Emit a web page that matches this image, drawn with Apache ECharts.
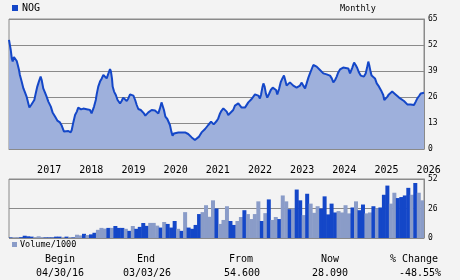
<!DOCTYPE html>
<html>
<head>
<meta charset="utf-8">
<script src="https://cdn.jsdelivr.net/npm/echarts@6/dist/echarts.min.js"></script>
<style>
html,body{margin:0;padding:0;background:#f3f3f3;}
#c{width:460px;height:280px;}
</style>
</head>
<body>
<div id="c"></div>
<script>
// Price series: x = months since 1 Jan 2016, y = price
const priceMonths = [4.0,4.5,4.8,5.05,5.4,5.9,6.2,6.5,6.85,7.1,7.6,8.1,8.55,9.0,9.5,9.8,10.3,10.8,11.2,11.6,12.05,12.5,13.0,13.3,13.75,14.25,14.7,15.2,15.9,16.4,17.1,17.75,18.5,19.0,19.65,20.2,20.9,21.55,21.85,22.3,22.8,23.3,23.7,24.5,25.15,25.6,26.4,27.05,27.5,27.8,28.2,28.7,28.95,29.4,29.9,30.4,30.85,31.3,31.8,32.3,32.75,33.0,33.3,33.5,33.9,34.4,34.9,35.6,36.05,36.5,37,37.5,37.95,38.45,38.9,39.4,39.9,40.35,40.8,41.5,41.95,42.4,42.8,43.2,43.65,44.1,44.6,45.55,46,46.5,46.95,47.4,47.7,48.1,48.5,49.05,49.5,49.8,50.2,50.55,50.95,51.25,52.2,53.15,54.1,55.0,56.0,56.9,57.4,58.1,58.8,59.8,60.7,61.5,62.25,63.1,63.55,64.05,64.5,65,65.5,65.95,66.4,66.9,67.8,68.3,69.25,70.2,71.15,72.1,73.05,74.0,74.5,74.95,75.4,75.7,76.1,76.4,76.75,77.1,77.5,78.0,78.5,79.05,79.5,80.0,80.35,80.85,81.3,81.8,82.25,82.6,83.0,83.5,83.95,84.45,84.9,85.4,85.85,86.3,86.8,87.3,87.75,88.25,88.7,89.2,89.65,90.15,90.6,91.1,91.55,92.0,92.5,92.95,93.45,94.4,95.35,95.85,96.3,96.8,97.25,97.7,98.2,98.7,99.1,99.6,100.55,101.05,101.3,101.7,102.2,102.65,103.1,103.6,104.1,104.55,105.0,105.5,105.9,106.25,106.55,106.95,107.2,107.7,108.15,108.65,109.1,109.6,110.05,110.5,110.8,111.2,111.7,112.1,112.6,113.05,113.55,114.0,114.5,115.0,115.45,116.4,116.9,117.35,118.3,118.8,119.25,119.75,120.2,120.7,121.2,121.65,122.1];
const priceValues = [54.6,49.5,45.3,43.7,46,46.2,44,42,39.5,37,33.7,30.3,28.3,26.2,22.8,20.8,22,22.5,24.5,27.8,31.2,33.7,36.2,34.5,30.3,28.2,26.2,23.7,21.2,18.3,16.2,14.2,13.3,11.7,8.7,9.2,9,8.3,9.5,13.3,17,18.7,20.7,19.8,20.2,20.8,19.8,19.5,17.8,17.3,21.2,24.5,27.3,31.2,33.7,35.3,37,36.2,35.3,37.8,40,38.8,35.3,31.2,28.7,27,24.5,22.8,24,25.7,25,24,25.3,27.3,27,26.7,24.5,22,20,19.5,18.7,17.8,16.7,17.3,18.3,19.2,19.5,19.2,18.7,17.8,20.3,23.3,22.5,19.5,16.2,15,14,12,8.7,6.7,7.8,8.3,8.3,8.3,8.3,7.5,5.8,4.5,4,6.2,8.3,10,12,13.7,12.3,14,15.3,17.8,19.2,20.3,21.2,18.7,17,16.7,19.5,21.7,22.8,20.7,20.7,23.3,25,27.3,28.3,26.7,25.3,27,30.7,32.8,31.2,27.8,25.7,27.5,29.5,30.7,31.7,29.5,27.3,30,33.3,35.3,36.7,34.5,31.7,31.8,33.3,34,31.7,31.2,30.7,30.7,31.7,33.2,31.7,30.3,32.8,35.7,37.8,40,42,42.3,41.2,40.3,39.5,38.8,37.8,37.3,36.7,35.3,33.3,34.5,36.2,38.3,39.8,40.3,40.7,40.7,40.3,37.8,38.5,40.7,43.2,42,40.5,38.2,36.7,35.7,36.2,37.8,40.7,43.7,41.7,38.2,36.7,36.2,35.3,32.8,31.7,31.2,28.7,27,24.5,25.3,26.2,27.3,28.3,28.7,28.3,27.3,26.7,25.7,25.3,24,23.3,22.3,22.3,21.7,22,23.7,25.3,26.5,27.8,28.2,28.09];

// Monthly volume (thousands), May 2016 .. Mar 2026
const volumeValues = [0.5,0.5,0.7,0.7,2,1.5,1.2,0.7,1.5,0.7,0.5,0.5,0.5,1.2,1.2,0.5,1.2,0.7,0.5,2.9,2.3,3.7,2.6,3.2,4.6,7.2,8.9,8.3,8.9,8.9,10.6,8.9,8.9,8.1,6.3,10.6,8.1,9.8,13.2,10.7,13.3,13.3,10.9,9.2,14.1,12.4,9.2,15,8.1,6.3,22.8,9.2,8.1,11.5,21.1,22.8,28.9,18.7,33.2,26,12.4,15.9,28,15,11.5,15,18.5,24.5,21.1,16.7,21.1,32.3,15,21.9,34,15.9,18.5,16.7,37.5,32.3,25.4,26,42.7,33.2,20.2,39,30.3,22.2,28,26,36.7,20.8,30.3,22.5,23.7,22.5,28.9,21.7,26.9,32.3,24.5,29.5,21.7,22.5,28,26,26.9,38.1,46.2,30.3,39.9,35.2,36.1,37.5,44.2,38.1,48.5,39.9,33.2];
// 1 = dark bar, 0 = light bar
const volumeShade = [1,0,0,1,1,1,1,0,0,0,1,1,1,1,1,0,1,0,1,0,0,1,0,1,1,0,0,0,1,0,1,1,1,0,1,0,1,1,1,1,0,0,0,1,0,1,1,1,0,1,0,1,1,1,1,0,0,0,0,1,0,0,0,1,1,0,0,1,0,0,0,0,1,0,1,0,0,1,0,0,1,0,1,1,0,1,0,0,0,1,1,1,1,1,0,0,0,0,1,0,1,1,0,0,1,0,1,1,1,0,0,1,1,1,1,0,1,0,0];

const yearLabels = ['2017','2018','2019','2020','2021','2022','2023','2024','2025','2026'];
const summaryHeads = ['Begin','End','From','Now','% Change'];
const summaryVals = ['04/30/16','03/03/26','54.600','28.090','-48.55%'];

const DARK = '#1447c8', LIGHT = '#8a9cc8', GRID = '#8a8a8a';
const MONO = "'DejaVu Sans Mono', monospace";

const chart = echarts.init(document.getElementById('c'), null, {renderer: 'canvas'});

const headX = [60, 146, 241, 330, 414];
const valX = [60, 147, 242, 330, 420];
const graphics = [
  {type:'text', left: 340, top: 4, style:{text:'Monthly', font:"8.5px " + MONO, fill:'#000'}}
];
summaryHeads.forEach((t, i) => {
  graphics.push({type:'text', x: headX[i], y: 259, style:{text:t, font:"10px " + MONO, fill:'#000', align:'center', verticalAlign:'middle'}});
  graphics.push({type:'text', x: valX[i], y: 273, style:{text:summaryVals[i], font:"10px " + MONO, fill:'#000', align:'center', verticalAlign:'middle'}});
});

chart.setOption({
  animation: false,
  backgroundColor: '#f3f3f3',
  grid: [
    {left: 9, right: 36, top: 19, height: 130, show: true, borderColor: GRID, borderWidth: 1},
    {left: 9, right: 36, top: 179, height: 59, show: true, borderColor: GRID, borderWidth: 1}
  ],
  legend: [
    {data: ['NOG'], left: 12, top: 3, padding: 0, icon: 'rect', itemWidth: 6, itemHeight: 6, itemGap: 5,
     textStyle: {fontFamily: MONO, fontSize: 10, color: '#000', padding: [0,0,0,-1]}},
    {data: ['Volume/1000'], left: 12, top: 240, padding: 0, icon: 'rect', itemWidth: 5, itemHeight: 5,
     textStyle: {fontFamily: MONO, fontSize: 8.5, color: '#000', padding: [0,0,0,-2]}}
  ],
  xAxis: [
    {type: 'value', gridIndex: 0, min: 4, max: 122.1,
     axisLine: {show: true, lineStyle: {color: GRID, width: 1}}, axisTick: {show: false}, splitLine: {show: false},
     axisLabel: {customValues: yearLabels.map(y => (Number(y) - 2016) * 12), formatter: v => String(Math.round(2016 + v / 12)),
       align: 'left', margin: 16, fontFamily: MONO, fontSize: 10, color: '#000', showMinLabel: true, showMaxLabel: true}},
    {type: 'category', gridIndex: 1, data: volumeValues.map((v, i) => i), boundaryGap: true, show: false}
  ],
  yAxis: [
    {type: 'value', gridIndex: 0, position: 'right', min: 0, max: 65, interval: 13,
     axisLine: {show: true, lineStyle: {color: GRID}}, axisTick: {show: false},
     splitLine: {show: true, lineStyle: {color: GRID, width: 1}},
     axisLabel: {margin: 4, fontFamily: MONO, fontSize: 8, color: '#000'}},
    {type: 'value', gridIndex: 1, position: 'right', min: 0, max: 52, interval: 26,
     axisLine: {show: true, lineStyle: {color: GRID}}, axisTick: {show: false},
     splitLine: {show: true, lineStyle: {color: GRID, width: 1}},
     axisLabel: {margin: 4, fontFamily: MONO, fontSize: 8, color: '#000'}}
  ],
  series: [
    {name: 'NOG', type: 'line', xAxisIndex: 0, yAxisIndex: 0,
     data: priceMonths.map((m, i) => [m, priceValues[i]]),
     showSymbol: false, symbol: 'none', color: DARK,
     lineStyle: {color: DARK, width: 2}, areaStyle: {color: '#9eb0dc', opacity: 1}, z: 3},
    {name: 'Volume/1000', type: 'bar', xAxisIndex: 1, yAxisIndex: 1, color: LIGHT,
     barWidth: 4, barGap: '0%',
     data: volumeValues.map((v, i) => ({value: v, itemStyle: {color: volumeShade[i] ? DARK : LIGHT}}))}
  ],
  graphic: graphics
});
</script>
</body>
</html>
